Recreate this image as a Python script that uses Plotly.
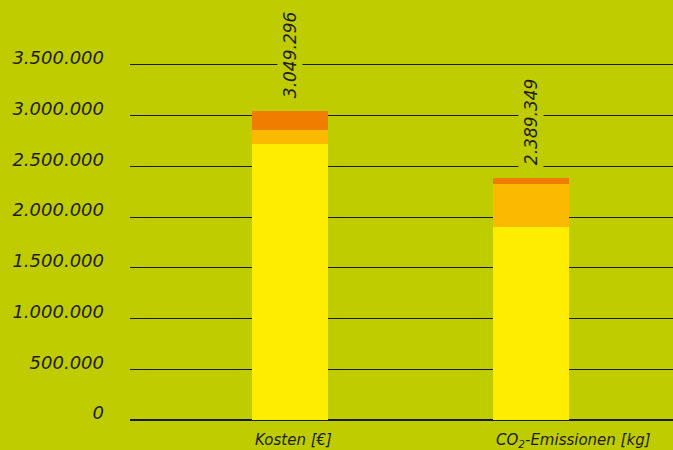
import plotly.graph_objects as go

categories = ["Kosten [€]", "CO<sub>2</sub>-Emissionen [kg]"]
seg_yellow = [2717000, 1901000]
seg_lightorange = [138000, 424000]
seg_orange = [194296, 64349]
totals = [3049296, 2389349]
tick_vals = [0, 500000, 1000000, 1500000, 2000000, 2500000, 3000000, 3500000]
tick_text = ["0", "500.000", "1.000.000", "1.500.000", "2.000.000", "2.500.000", "3.000.000", "3.500.000"]

BG = "#bfcc00"
TXT = "#1e1e0a"
FONT = "DejaVu Sans"
WEIGHT = 300
BAR_W = 0.315

fig = go.Figure()
for vals, col in [(seg_yellow, "#ffed00"), (seg_lightorange, "#fbba00"), (seg_orange, "#ef7d00")]:
    fig.add_trace(go.Bar(x=[0, 1], y=vals, marker=dict(color=col, line=dict(width=0)),
                         width=BAR_W, showlegend=False, hoverinfo="skip"))

for i, t in enumerate(totals):
    fig.add_annotation(x=i, y=t, xref="x", yref="y", text=f"{t:,}".replace(",", "."),
                       textangle=-90, showarrow=False, yanchor="bottom", yshift=9,
                       bgcolor=BG, borderpad=2,
                       font=dict(family=FONT, size=17, color=TXT, style="italic", weight=WEIGHT))

for i, c in enumerate(categories):
    fig.add_annotation(x=i - BAR_W / 2, y=0, xref="x", yref="paper", text=c,
                       showarrow=False, xanchor="left", yanchor="top", yshift=-9, xshift=1,
                       font=dict(family=FONT, size=15, color=TXT, style="italic", weight=WEIGHT))

fig.update_layout(
    barmode="stack",
    width=673, height=450,
    paper_bgcolor=BG, plot_bgcolor=BG,
    margin=dict(l=130, r=0, t=0, b=30),
    bargap=0,
)
fig.update_xaxes(
    range=[-0.664, 1.589],
    showticklabels=False,
    showgrid=False, showline=False, zeroline=False, ticks="",
    fixedrange=True,
)
fig.update_yaxes(
    range=[0, 4.14e6],
    tickvals=tick_vals, ticktext=tick_text,
    tickfont=dict(family=FONT, size=18, color=TXT, style="italic", weight=WEIGHT),
    showgrid=True, gridcolor="#1a1a1a", gridwidth=1,
    zeroline=True, zerolinecolor="#1a1a1a", zerolinewidth=1.5,
    showline=False, ticks="", ticklabelstandoff=25, ticklabelshift=-7,
    fixedrange=True,
)
fig.write_html("out.html", config={"displayModeBar": False},
               post_script="document.body.style.margin='0';document.body.style.background='%s';" % BG)
